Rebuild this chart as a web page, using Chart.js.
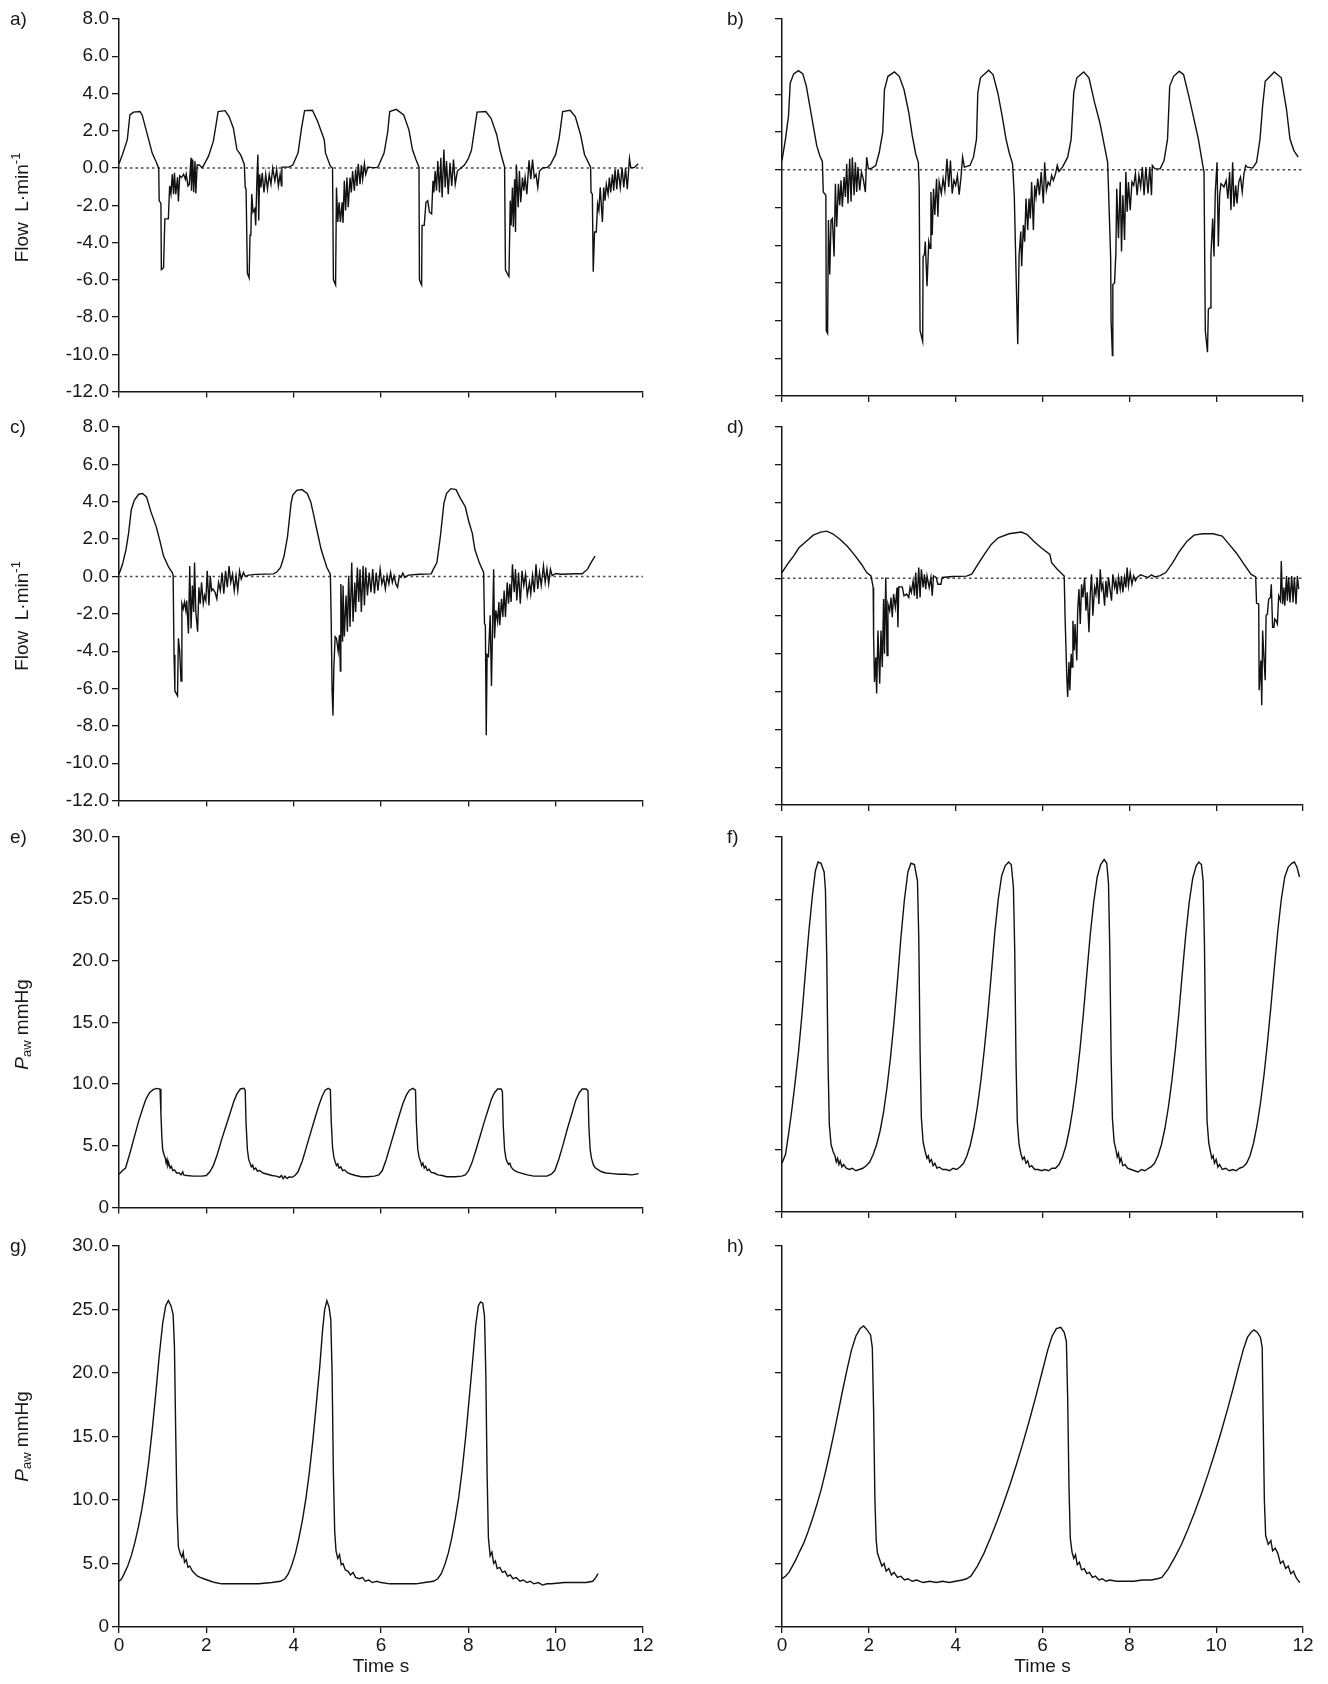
<!DOCTYPE html>
<html><head><meta charset="utf-8">
<script src="https://cdn.jsdelivr.net/npm/chart.js@4.4.1/dist/chart.umd.min.js"></script>
<style>
html,body{margin:0;padding:0;background:#fff;}
#wrap{position:relative;width:1328px;height:1684px;background:#fff;overflow:hidden;}
canvas{position:absolute;}
</style></head><body><div id="wrap"></div>
<script>
// ---------- tick values ----------
const timeTicks = [0,2,4,6,8,10,12];
const flowTicks = [8,6,4,2,0,-2,-4,-6,-8,-10,-12];
const pawTicks = [30,25,20,15,10,5,0];
const panelLetters = ['a)','b)','c)','d)','e)','f)','g)','h)'];
const zeroLine = [[0,0],[12,0]];

// ---------- series [time s, value] ----------
const flowA = [[0,0.23],[0.08,0.73],[0.19,1.52],[0.25,2.85],[0.33,3.0],[0.48,3.03],[0.53,2.85],[0.66,1.7],[0.76,0.8],[0.86,0.28],[0.91,-0.02],[0.92,-1.75],[0.96,-1.9],[0.97,-5.45],[1.02,-5.35],[1.05,-2.73],[1.13,-2.73],[1.16,-0.96],[1.19,-1.4],[1.22,-0.34],[1.25,-1.4],[1.27,-0.25],[1.3,-1.4],[1.34,-0.5],[1.36,-1.8],[1.39,-0.42],[1.43,-0.51],[1.48,-0.34],[1.52,-0.6],[1.54,-0.34],[1.58,-0.96],[1.61,-0.87],[1.65,0.55],[1.66,-1.22],[1.69,0.46],[1.71,-1.3],[1.74,0.37],[1.76,-1.36],[1.79,0.16],[1.84,0.16],[1.9,0.02],
[1.93,0.1],[2.05,0.64],[2.16,1.43],[2.21,2.14],[2.27,3.03],[2.43,3.08],[2.52,2.76],[2.62,2.14],[2.7,0.99],[2.79,0.69],[2.87,0.19],[2.89,-1.04],[2.91,-1.13],[2.94,-5.65],[2.98,-5.9],[3.0,-3.6],[3.02,-3.52],[3.04,-1.4],[3.07,-2.37],[3.11,-2.2],[3.13,-3.08],[3.16,-0.51],[3.18,0.73],[3.2,-2.81],[3.22,-0.34],[3.25,-1.04],[3.28,-0.25],[3.32,-1.31],[3.36,-0.34],[3.4,-1.13],[3.44,-0.34],[3.48,-0.87],[3.52,0],[3.57,-0.69],[3.61,-0.07],[3.65,-0.96],[3.69,-0.34],[3.72,-0.96],[3.73,0.05],[3.89,0.05],
[3.98,0.16],[4.1,0.8],[4.18,2.14],[4.25,3.08],[4.43,3.1],[4.55,2.5],[4.7,1.52],[4.73,0.8],[4.84,0.1],[4.89,0],[4.91,-6.0],[4.96,-6.27],[4.98,-1.04],[5.01,-2.9],[5.04,-1.84],[5.07,-2.9],[5.11,-1.84],[5.13,-2.95],[5.16,-0.69],[5.19,-2.28],[5.22,-0.51],[5.25,-2.1],[5.29,-0.51],[5.32,-1.31],[5.35,-0.16],[5.39,-1.22],[5.42,-0.07],[5.45,-0.96],[5.48,0.23],[5.52,-0.87],[5.55,0.16],[5.58,-0.6],[5.62,0.23],[5.65,-0.34],[5.7,0.05],[5.78,0.02],[5.9,0.02],
[5.94,0.1],[6.07,0.8],[6.15,1.88],[6.2,3.03],[6.35,3.15],[6.52,2.85],[6.64,2.05],[6.72,0.99],[6.8,0.46],[6.87,0.05],[6.88,-6.0],[6.93,-6.27],[6.94,-3.08],[6.99,-3.08],[7.03,-1.84],[7.07,-1.75],[7.11,-2.37],[7.16,-2.46],[7.19,-0.69],[7.21,-1.31],[7.24,-0.16],[7.27,-1.22],[7.3,0.37],[7.34,-1.31],[7.37,0.55],[7.4,-1.58],[7.44,0.99],[7.47,-1.04],[7.5,0.37],[7.54,-1.4],[7.58,0.28],[7.62,-0.96],[7.66,0.46],[7.7,-0.87],[7.75,-0.16],[7.83,0],[7.91,0.16],
[7.99,0.46],[8.07,0.94],[8.14,2.05],[8.2,3.0],[8.4,3.03],[8.52,2.67],[8.65,1.79],[8.73,0.9],[8.83,0.05],[8.85,-5.47],[8.89,-5.65],[8.93,-5.82],[8.96,-1.75],[8.98,-3.08],[9.01,-1.04],[9.03,-3.17],[9.06,-0.6],[9.08,-3.43],[9.1,0.19],[9.14,-2.1],[9.17,-0.16],[9.2,-1.84],[9.24,-0.51],[9.27,-1.22],[9.3,-0.51],[9.34,-1.4],[9.39,0.41],[9.43,-0.6],[9.47,0.46],[9.51,-0.51],[9.55,-0.34],[9.59,-1.04],[9.63,-0.16],[9.71,0.02],[9.8,0.02],
[9.88,0.19],[10.0,0.73],[10.08,1.61],[10.16,3.03],[10.33,3.1],[10.45,2.76],[10.57,1.79],[10.66,0.73],[10.8,0.05],[10.81,-1.31],[10.84,-1.4],[10.86,-5.56],[10.89,-3.43],[10.93,-3.43],[10.96,-1.93],[10.99,-2.28],[11.02,-1.04],[11.07,-2.9],[11.1,-1.04],[11.13,-1.75],[11.16,-0.87],[11.2,-1.4],[11.23,-0.51],[11.26,-1.31],[11.3,-0.34],[11.33,-1.22],[11.36,-0.07],[11.4,-1.13],[11.43,-0.07],[11.48,-1.04],[11.52,0.02],[11.56,-1.04],[11.6,0],[11.64,-1.13],[11.69,0.51],[11.72,0.02],[11.8,0.02],[11.89,0.23]];

const flowB = [[0,0.49],[0.08,1.63],[0.15,2.86],[0.19,4.61],[0.27,5.09],[0.38,5.26],[0.48,5.09],[0.56,4.44],[0.64,3.39],[0.72,2.33],[0.8,1.28],[0.87,0.75],[0.93,0.44],[0.95,-1.18],[1.01,-1.35],[1.02,-8.54],[1.05,-8.68],[1.07,-2.67],[1.1,-5.56],[1.13,-2.67],[1.16,-2.58],[1.2,-4.6],[1.23,-0.74],[1.26,-3.02],[1.3,-0.74],[1.33,-1.88],[1.36,-0.56],[1.39,-1.96],[1.43,-0.39],[1.46,-1.44],[1.49,0.32],[1.52,-1.79],[1.56,0.58],[1.59,-1.7],[1.62,0.67],[1.66,-1.35],[1.69,0.4],[1.72,-1.18],[1.75,0.14],[1.79,-1.09],[1.83,-0.12],[1.87,-0.47],[1.92,-1.18],[1.95,0.67],[1.99,0.05],[2.07,0.09],
[2.16,0.23],[2.24,0.93],[2.32,1.98],[2.36,4.26],[2.44,4.96],[2.59,5.19],[2.7,4.96],[2.81,4.26],[2.92,3.04],[3.0,1.81],[3.08,0.84],[3.14,0.4],[3.16,-0.91],[3.18,-8.54],[3.24,-9.1],[3.25,-4.6],[3.28,-4.51],[3.3,-3.81],[3.34,-6.18],[3.38,-3.81],[3.41,-4.16],[3.43,-1.18],[3.46,-3.46],[3.49,-1.0],[3.52,-2.4],[3.56,-0.47],[3.59,-2.49],[3.62,-0.65],[3.67,-1.26],[3.71,-0.47],[3.75,-1.09],[3.8,0.58],[3.84,-0.91],[3.88,0.49],[3.92,-1.26],[3.96,-0.56],[4.0,-0.82],[4.04,-0.3],[4.08,-1.32],[4.12,-0.47],[4.16,0.67],[4.2,0.14],[4.33,0.23],
[4.41,0.67],[4.48,1.63],[4.51,4.09],[4.57,4.88],[4.76,5.28],[4.86,5.05],[4.97,4.09],[5.07,2.86],[5.16,1.63],[5.23,0.93],[5.31,0.32],[5.35,-1.35],[5.39,-5.39],[5.43,-9.25],[5.46,-4.6],[5.5,-3.28],[5.52,-5.12],[5.56,-2.93],[5.59,-3.81],[5.62,-1.53],[5.66,-3.19],[5.69,-1.53],[5.72,-2.58],[5.75,-0.65],[5.79,-3.19],[5.82,-0.82],[5.85,-1.44],[5.89,-0.47],[5.93,-1.35],[5.97,-0.12],[6.02,-1.79],[6.05,0.4],[6.09,-1.09],[6.13,-0.65],[6.17,-0.82],[6.21,-0.3],[6.25,-0.56],[6.3,-0.21],[6.34,0.23],[6.38,-0.09],[6.46,0.14],[6.58,0.67],
[6.66,1.63],[6.72,4.09],[6.79,4.88],[6.95,5.19],[7.07,4.88],[7.2,3.56],[7.32,2.51],[7.38,1.81],[7.44,1.11],[7.5,0.4],[7.52,-1.0],[7.57,-4.68],[7.58,-8.02],[7.61,-9.86],[7.62,-6.09],[7.66,-6.0],[7.69,-4.42],[7.71,-1.0],[7.75,-3.63],[7.79,-0.65],[7.82,-4.33],[7.85,-1.35],[7.89,-3.72],[7.92,-0.12],[7.95,-2.23],[7.98,-0.65],[8.02,-2.14],[8.06,-0.65],[8.1,-0.82],[8.14,-0.21],[8.18,-1.35],[8.22,-0.3],[8.26,-0.91],[8.3,0.14],[8.34,-1.35],[8.38,0.14],[8.43,-1.26],[8.47,0.14],[8.51,-1.35],[8.53,0.23],[8.59,0.05],[8.71,0.05],
[8.8,0.49],[8.88,1.63],[8.93,4.44],[9.02,4.96],[9.15,5.23],[9.25,5.05],[9.37,3.91],[9.49,2.68],[9.59,1.63],[9.68,0.4],[9.72,-0.12],[9.75,-8.54],[9.8,-9.68],[9.82,-7.4],[9.86,-7.32],[9.88,-4.51],[9.92,-2.58],[9.95,-4.6],[9.98,-1.18],[10.02,0.4],[10.05,-4.07],[10.08,-1.35],[10.11,-0.74],[10.15,-0.82],[10.18,-0.91],[10.23,-0.56],[10.27,-1.53],[10.31,-0.12],[10.34,-2.14],[10.38,0.4],[10.41,-1.96],[10.45,-0.82],[10.48,-1.79],[10.52,-0.65],[10.56,-0.39],[10.6,-1.18],[10.64,-0.21],[10.68,0.23],[10.72,0.14],[10.84,0.09],
[10.93,0.4],[11.01,1.63],[11.07,3.39],[11.13,4.7],[11.34,5.19],[11.5,4.88],[11.62,3.21],[11.7,1.63],[11.79,1.02],[11.89,0.67]];

const flowC = [[0,0.12],[0.08,0.65],[0.16,1.44],[0.22,2.32],[0.28,3.56],[0.35,4.08],[0.45,4.4],[0.54,4.44],[0.63,4.26],[0.73,3.47],[0.85,2.68],[0.93,1.97],[1.02,1.09],[1.14,0.48],[1.22,0.21],[1.24,0.04],[1.26,-4.19],[1.28,-6.13],[1.34,-6.39],[1.36,-3.31],[1.39,-4.01],[1.42,-5.6],[1.44,-1.46],[1.47,-1.73],[1.5,-1.37],[1.53,-1.81],[1.55,-1.29],[1.59,-3.05],[1.62,0.56],[1.65,-2.78],[1.68,-0.49],[1.71,-1.9],[1.73,0.74],[1.76,-1.9],[1.8,-2.96],[1.83,-0.58],[1.86,-1.46],[1.89,-0.32],[1.93,-1.46],[1.96,-1.02],[1.99,-1.29],[2.02,0.3],[2.06,-1.55],[2.09,0.04],[2.12,-0.76],[2.15,-0.67],[2.2,-0.85],[2.24,-1.2],[2.28,-0.32],[2.32,-0.76],[2.36,0.21],[2.4,-0.93],[2.44,0.3],[2.48,-0.58],[2.52,0.56],[2.56,-0.32],[2.6,0.12],[2.64,-0.76],[2.68,0.04],[2.72,-0.76],[2.76,0.3],[2.8,-0.14],[2.85,0.21],[2.89,0],[2.97,0.07],[3.13,0.11],[3.54,0.14],
[3.62,0.25],[3.7,0.48],[3.78,1.09],[3.86,2.15],[3.94,3.91],[3.98,4.35],[4.07,4.61],[4.19,4.65],[4.31,4.44],[4.39,4.0],[4.45,3.38],[4.53,2.5],[4.63,1.44],[4.76,0.48],[4.84,0.12],[4.86,-2.43],[4.88,-6.13],[4.9,-7.45],[4.92,-4.89],[4.95,-3.22],[4.98,-3.31],[5.02,-4.01],[5.05,-3.13],[5.07,-5.07],[5.08,-0.4],[5.12,-3.49],[5.13,-0.49],[5.16,-3.22],[5.2,-1.02],[5.23,-2.96],[5.26,0.04],[5.29,-2.69],[5.33,0.74],[5.36,-2.43],[5.4,-0.32],[5.42,-1.9],[5.46,0.48],[5.49,-1.37],[5.52,0.39],[5.55,-1.9],[5.59,0.56],[5.62,-1.55],[5.65,0.48],[5.69,-1.02],[5.73,0.21],[5.77,-0.85],[5.81,0.39],[5.85,-0.93],[5.89,0.21],[5.93,-0.76],[5.98,0.39],[6.02,-0.4],[6.06,-0.05],[6.1,-0.67],[6.14,0.04],[6.18,-0.4],[6.22,0.21],[6.26,-0.32],[6.3,0.04],[6.34,-0.4],[6.38,-0.58],[6.42,0.04],[6.46,-0.05],[6.5,0.18],[6.54,-0.05],[6.63,0.07],[6.87,0.12],[7.15,0.14],
[7.2,0.39],[7.28,0.74],[7.36,2.15],[7.44,3.91],[7.5,4.44],[7.6,4.7],[7.72,4.65],[7.8,4.26],[7.93,3.73],[8.01,2.94],[8.09,2.32],[8.15,1.44],[8.25,0.74],[8.35,0.21],[8.37,-2.52],[8.39,-2.61],[8.41,-8.5],[8.43,-4.19],[8.46,-4.28],[8.5,-2.08],[8.53,-5.86],[8.56,-1.99],[8.58,0.39],[8.6,-3.31],[8.63,-1.81],[8.67,-2.43],[8.7,-1.37],[8.72,-2.61],[8.76,-1.2],[8.79,-2.17],[8.82,-0.76],[8.85,-2.17],[8.89,-0.32],[8.92,-1.46],[8.95,-0.4],[8.98,-1.37],[9.01,0.65],[9.05,-0.85],[9.08,0.39],[9.11,-1.29],[9.15,0.21],[9.19,-1.46],[9.23,0.3],[9.27,-0.49],[9.31,0.12],[9.35,-1.02],[9.4,-0.32],[9.43,-0.93],[9.47,0.04],[9.51,-0.85],[9.55,0.65],[9.59,-0.67],[9.63,0.21],[9.67,-0.49],[9.72,0.56],[9.76,-0.32],[9.8,0.39],[9.84,-0.4],[9.88,0.39],[9.92,0.04],[10.0,0.16],[10.12,0.12],[10.45,0.14],[10.61,0.14],[10.73,0.39],[10.81,0.74],[10.9,1.09]];

const flowD = [[0,0.3],[0.15,0.82],[0.27,1.18],[0.39,1.61],[0.56,1.96],[0.72,2.28],[0.89,2.44],[1.03,2.49],[1.17,2.35],[1.34,2.05],[1.5,1.7],[1.66,1.26],[1.83,0.74],[1.95,0.3],[2.05,0.12],[2.1,-0.49],[2.11,-3.12],[2.13,-5.49],[2.16,-4.18],[2.18,-6.1],[2.21,-2.77],[2.25,-5.58],[2.28,-2.77],[2.31,-4.7],[2.34,-1.1],[2.36,-4.0],[2.39,0.04],[2.42,-4.09],[2.44,-1.37],[2.48,-1.72],[2.51,-1.02],[2.54,-2.07],[2.57,-0.84],[2.61,-1.54],[2.65,-0.49],[2.67,-2.6],[2.69,-0.46],[2.77,-0.46],[2.81,-0.93],[2.87,-0.84],[2.92,-1.02],[2.95,-0.49],[2.98,-0.75],[3.02,-0.14],[3.05,-0.93],[3.08,0.3],[3.11,-1.1],[3.15,0.56],[3.18,-1.02],[3.21,0.47],[3.25,-0.49],[3.28,0.21],[3.31,-0.58],[3.34,0.12],[3.39,-0.49],[3.43,0.04],[3.46,-0.93],[3.49,0.12],[3.55,0.04],[3.59,-0.32],[3.66,-0.32],[3.69,0.04],[3.92,0.09],[4.25,0.11],
[4.37,0.21],[4.49,0.65],[4.66,1.26],[4.82,1.79],[4.98,2.14],[5.23,2.35],[5.51,2.44],[5.64,2.32],[5.8,1.96],[5.97,1.61],[6.17,1.26],[6.21,0.82],[6.34,0.47],[6.5,0.12],[6.52,-2.07],[6.56,-5.23],[6.58,-6.28],[6.61,-4.44],[6.63,-5.93],[6.66,-4.0],[6.68,-4.7],[6.7,-2.25],[6.73,-3.82],[6.75,-2.42],[6.79,-4.35],[6.81,-1.72],[6.84,-0.58],[6.87,-2.42],[6.9,-0.32],[6.93,-1.02],[6.97,0.04],[7.0,-1.72],[7.03,-0.75],[7.07,-2.86],[7.1,-0.84],[7.13,0.21],[7.16,-1.98],[7.2,-0.49],[7.23,-0.84],[7.26,0.04],[7.3,-1.37],[7.33,0.47],[7.36,-0.58],[7.39,-0.32],[7.43,-1.46],[7.46,-0.14],[7.49,-1.02],[7.52,0.04],[7.56,-0.67],[7.59,-1.19],[7.62,0.21],[7.66,-0.49],[7.69,-0.14],[7.72,-0.84],[7.75,0.04],[7.79,-0.58],[7.82,0.12],[7.85,-0.75],[7.89,0.04],[7.92,-0.49],[7.95,0.56],[7.98,-0.4],[8.02,0.3],[8.06,-0.32],[8.1,0.12],[8.14,-0.14],[8.18,0.04],[8.26,0.18],[8.34,0.11],[8.43,0.04],[8.51,0.18],[8.59,0.07],[8.71,0.14],
[8.84,0.3],[9.0,0.82],[9.16,1.44],[9.33,1.96],[9.49,2.28],[9.69,2.35],[9.93,2.35],[10.14,2.23],[10.3,1.79],[10.46,1.35],[10.64,0.74],[10.8,0.21],[10.91,0.07],[10.93,-1.33],[10.98,-1.37],[10.99,-5.93],[11.03,-4.35],[11.05,-6.72],[11.07,-2.77],[11.1,-4.18],[11.13,-5.4],[11.15,-1.98],[11.18,-1.89],[11.21,-1.1],[11.25,-1.02],[11.27,-0.32],[11.3,-2.6],[11.33,-2.6],[11.35,-2.16],[11.38,-2.25],[11.41,-2.42],[11.44,-0.93],[11.48,-1.19],[11.5,0.91],[11.53,-1.37],[11.56,-0.49],[11.58,-1.46],[11.62,0.12],[11.64,-1.19],[11.67,0.04],[11.7,-1.28],[11.74,0.12],[11.77,-1.28],[11.8,0.04],[11.84,-1.37],[11.87,0.12],[11.9,-0.58]];

const pawE = [[0,2.7],[0.08,3.0],[0.15,3.2],[0.25,4.4],[0.35,5.7],[0.45,7.0],[0.55,8.1],[0.62,8.8],[0.7,9.3],[0.78,9.55],[0.86,9.65],[0.94,9.6],[0.96,7.6],[0.98,5.8],[1.0,4.7],[1.03,4.3],[1.06,4.0],[1.08,3.6],[1.1,3.9],[1.12,3.4],[1.14,3.6],[1.17,3.2],[1.2,3.35],[1.23,3.0],[1.27,3.05],[1.32,2.8],[1.38,2.8],[1.42,2.65],[1.46,2.9],[1.48,2.65],[1.55,2.6],[1.7,2.55],[1.9,2.55],[2.0,2.6],
[2.08,2.9],[2.16,3.4],[2.25,4.3],[2.35,5.5],[2.45,6.6],[2.55,7.7],[2.63,8.6],[2.7,9.2],[2.78,9.6],[2.86,9.65],[2.89,9.5],[2.91,6.8],[2.94,4.7],[2.97,3.9],[3.0,3.6],[3.03,3.3],[3.06,3.45],[3.09,3.1],[3.13,3.2],[3.17,2.95],[3.22,3.0],[3.3,2.8],[3.4,2.7],[3.5,2.6],[3.6,2.55],[3.68,2.45],[3.72,2.6],[3.76,2.35],[3.8,2.55],[3.85,2.35],[3.9,2.5],[3.96,2.45],
[4.03,2.6],[4.1,2.9],[4.2,3.8],[4.3,5.0],[4.4,6.2],[4.5,7.4],[4.58,8.3],[4.65,9.0],[4.72,9.5],[4.79,9.65],[4.84,9.55],[4.86,7.0],[4.89,4.9],[4.92,4.1],[4.95,3.7],[4.98,3.4],[5.01,3.55],[5.04,3.2],[5.08,3.3],[5.12,3.0],[5.17,3.05],[5.24,2.8],[5.32,2.7],[5.42,2.6],[5.55,2.5],[5.7,2.5],[5.85,2.55],[5.95,2.65],
[6.03,3.0],[6.12,3.9],[6.22,5.1],[6.32,6.3],[6.42,7.5],[6.5,8.4],[6.58,9.1],[6.65,9.5],[6.73,9.65],[6.79,9.5],[6.81,6.9],[6.84,4.8],[6.87,4.1],[6.9,3.8],[6.93,3.4],[6.96,3.6],[6.99,3.2],[7.02,3.35],[7.06,3.0],[7.1,3.1],[7.15,2.85],[7.22,2.8],[7.3,2.65],[7.4,2.6],[7.5,2.5],[7.7,2.5],[7.85,2.55],[7.93,2.65],
[8.0,2.95],[8.08,3.6],[8.17,4.6],[8.27,5.8],[8.37,7.0],[8.46,8.0],[8.53,8.8],[8.6,9.3],[8.67,9.6],[8.75,9.6],[8.78,9.4],[8.8,6.6],[8.83,4.7],[8.86,4.0],[8.89,3.7],[8.92,3.5],[8.95,3.6],[8.98,3.3],[9.02,3.1],[9.08,2.95],[9.15,2.85],[9.25,2.75],[9.35,2.65],[9.5,2.55],[9.65,2.55],[9.8,2.55],
[9.9,2.7],[9.98,3.0],[10.07,3.9],[10.17,5.1],[10.27,6.4],[10.37,7.6],[10.46,8.7],[10.54,9.3],[10.61,9.6],[10.7,9.6],[10.74,9.45],[10.76,6.6],[10.79,4.7],[10.82,4.0],[10.86,3.5],[10.9,3.25],[10.96,3.1],[11.05,2.9],[11.15,2.8],[11.3,2.75],[11.45,2.7],[11.6,2.7],[11.75,2.65],[11.9,2.75]];

const pawF = [[0,3.9],[0.08,4.6],[0.15,6.2],[0.22,8.0],[0.3,10.3],[0.38,12.8],[0.46,15.8],[0.54,19.2],[0.62,22.5],[0.7,25.3],[0.77,27.3],[0.83,28.0],[0.9,27.9],[0.97,27.2],[1.0,25.8],[1.03,20.5],[1.06,12.0],[1.09,7.0],[1.13,5.4],[1.18,4.8],[1.22,4.5],[1.25,4.0],[1.28,4.3],[1.31,3.8],[1.34,4.1],[1.38,3.6],[1.42,3.8],[1.48,3.5],[1.55,3.4],[1.62,3.5],[1.7,3.3],[1.78,3.4],[1.86,3.5],[1.94,3.7],
[2.02,4.0],[2.1,4.6],[2.18,5.4],[2.26,6.5],[2.34,8.0],[2.42,10.0],[2.5,12.4],[2.58,15.2],[2.66,18.5],[2.74,22.0],[2.82,25.0],[2.9,27.2],[2.97,27.9],[3.05,27.8],[3.12,26.5],[3.15,22.0],[3.18,13.0],[3.21,7.5],[3.25,5.6],[3.3,4.8],[3.34,4.3],[3.37,4.5],[3.4,4.0],[3.44,4.2],[3.48,3.7],[3.52,3.9],[3.57,3.5],[3.62,3.6],[3.7,3.4],[3.78,3.4],[3.86,3.3],[3.94,3.5],[4.02,3.4],[4.1,3.6],
[4.18,3.9],[4.26,4.5],[4.34,5.4],[4.42,6.7],[4.5,8.4],[4.58,10.5],[4.66,13.0],[4.74,15.8],[4.82,19.0],[4.9,22.3],[4.98,25.0],[5.06,26.9],[5.14,27.7],[5.22,28.0],[5.28,27.8],[5.33,26.0],[5.36,21.0],[5.39,12.0],[5.42,7.2],[5.46,5.4],[5.5,4.7],[5.54,4.2],[5.58,4.4],[5.62,3.9],[5.66,4.1],[5.7,3.6],[5.75,3.7],[5.82,3.4],[5.9,3.4],[5.98,3.3],[6.06,3.4],[6.14,3.3],[6.22,3.5],[6.3,3.5],
[6.38,3.8],[6.46,4.4],[6.54,5.3],[6.62,6.6],[6.7,8.3],[6.78,10.4],[6.86,12.9],[6.94,15.8],[7.02,19.0],[7.1,22.2],[7.18,24.8],[7.26,26.8],[7.34,27.8],[7.42,28.2],[7.48,27.9],[7.52,26.3],[7.55,21.0],[7.58,12.5],[7.61,7.5],[7.65,5.6],[7.69,5.0],[7.72,4.4],[7.75,4.7],[7.78,4.0],[7.81,4.3],[7.85,3.7],[7.9,3.8],[7.96,3.5],[8.04,3.4],[8.12,3.3],[8.2,3.2],[8.28,3.4],[8.36,3.3],[8.44,3.5],[8.5,3.6],
[8.58,3.9],[8.66,4.5],[8.74,5.4],[8.82,6.7],[8.9,8.4],[8.98,10.5],[9.06,13.0],[9.14,15.9],[9.22,19.1],[9.3,22.2],[9.38,24.8],[9.46,26.7],[9.54,27.7],[9.6,28.0],[9.66,27.8],[9.7,26.5],[9.73,21.5],[9.76,12.5],[9.79,7.3],[9.83,5.5],[9.87,4.8],[9.9,4.3],[9.93,4.5],[9.96,3.9],[10.0,4.2],[10.04,3.6],[10.08,3.8],[10.14,3.4],[10.22,3.5],[10.3,3.3],[10.38,3.4],[10.46,3.3],[10.54,3.5],[10.62,3.6],
[10.7,3.9],[10.78,4.5],[10.86,5.5],[10.94,6.9],[11.02,8.7],[11.1,10.9],[11.18,13.5],[11.26,16.4],[11.34,19.5],[11.42,22.5],[11.5,25.0],[11.58,26.8],[11.66,27.6],[11.74,27.9],[11.8,28.0],[11.86,27.6],[11.92,26.8]];

const pawG = [[0,3.6],[0.06,3.8],[0.12,4.2],[0.2,4.8],[0.28,5.6],[0.36,6.6],[0.44,7.8],[0.52,9.2],[0.6,10.9],[0.68,13.0],[0.76,15.5],[0.84,18.3],[0.92,21.3],[1.0,23.9],[1.07,25.3],[1.13,25.7],[1.19,25.3],[1.24,24.6],[1.27,22.0],[1.3,15.0],[1.33,9.0],[1.36,6.3],[1.4,5.8],[1.44,5.5],[1.47,5.9],[1.5,5.1],[1.54,5.3],[1.58,4.7],[1.62,4.8],[1.68,4.4],[1.74,4.2],[1.8,4.0],[1.86,3.9],[1.94,3.8],[2.02,3.7],[2.1,3.6],[2.2,3.5],[2.35,3.4],[2.6,3.4],[2.9,3.4],[3.2,3.4],[3.5,3.5],[3.7,3.6],
[3.8,3.8],[3.88,4.2],[3.96,4.9],[4.04,5.8],[4.12,7.0],[4.2,8.4],[4.28,10.1],[4.36,12.2],[4.44,14.7],[4.52,17.6],[4.6,20.6],[4.66,23.3],[4.71,25.0],[4.76,25.7],[4.81,25.2],[4.85,24.2],[4.88,20.0],[4.91,12.0],[4.94,7.5],[4.97,6.0],[5.01,5.4],[5.05,5.7],[5.09,4.9],[5.13,5.0],[5.18,4.5],[5.24,4.4],[5.3,4.1],[5.36,4.3],[5.42,3.9],[5.5,3.8],[5.58,3.9],[5.64,3.6],[5.72,3.7],[5.8,3.5],[5.9,3.6],[6.0,3.5],[6.2,3.4],[6.5,3.4],[6.8,3.4],[7.0,3.5],[7.2,3.6],
[7.3,3.8],[7.38,4.2],[7.46,4.9],[7.54,5.8],[7.62,7.0],[7.7,8.5],[7.78,10.2],[7.86,12.4],[7.94,15.0],[8.02,18.0],[8.1,21.0],[8.17,23.8],[8.23,25.3],[8.28,25.6],[8.33,25.5],[8.37,24.5],[8.4,20.0],[8.43,12.0],[8.46,7.0],[8.5,5.6],[8.54,5.9],[8.58,5.0],[8.62,5.2],[8.66,4.6],[8.72,4.7],[8.78,4.3],[8.84,4.4],[8.9,4.0],[8.96,4.1],[9.02,3.8],[9.1,3.9],[9.18,3.6],[9.26,3.7],[9.34,3.5],[9.42,3.6],[9.5,3.4],[9.6,3.5],[9.7,3.3],[9.8,3.4],[9.9,3.4],[10.2,3.5],[10.5,3.5],[10.7,3.5],[10.85,3.6],[10.92,3.9],[10.97,4.2]];

const pawH = [[0,3.8],[0.08,4.0],[0.16,4.3],[0.24,4.8],[0.32,5.3],[0.4,5.9],[0.5,6.6],[0.6,7.5],[0.7,8.5],[0.8,9.6],[0.9,10.8],[1.0,12.2],[1.1,13.7],[1.2,15.3],[1.3,17.0],[1.4,18.7],[1.5,20.3],[1.6,21.8],[1.7,22.9],[1.8,23.5],[1.88,23.7],[1.96,23.4],[2.04,23.0],[2.08,22.0],[2.11,17.0],[2.14,10.0],[2.17,6.8],[2.2,5.8],[2.25,5.3],[2.3,4.8],[2.35,5.0],[2.4,4.4],[2.46,4.6],[2.52,4.1],[2.58,4.3],[2.66,3.9],[2.74,4.0],[2.82,3.7],[2.9,3.8],[3.0,3.6],[3.1,3.7],[3.25,3.5],[3.4,3.6],[3.55,3.5],[3.7,3.6],[3.85,3.5],[4.0,3.6],[4.15,3.7],[4.25,3.8],
[4.35,4.0],[4.5,4.8],[4.65,5.8],[4.8,7.0],[4.95,8.3],[5.1,9.7],[5.25,11.2],[5.4,12.8],[5.55,14.5],[5.7,16.3],[5.85,18.2],[6.0,20.2],[6.12,21.8],[6.22,22.9],[6.32,23.5],[6.42,23.6],[6.5,23.2],[6.55,22.5],[6.58,18.0],[6.61,11.0],[6.64,7.0],[6.68,5.9],[6.72,5.4],[6.76,5.7],[6.8,4.9],[6.85,5.1],[6.9,4.5],[6.96,4.6],[7.02,4.2],[7.08,4.3],[7.15,3.9],[7.22,4.0],[7.3,3.7],[7.38,3.8],[7.46,3.6],[7.55,3.7],[7.7,3.6],[7.9,3.6],[8.1,3.6],[8.3,3.7],[8.5,3.7],[8.65,3.8],
[8.75,3.9],[8.9,4.6],[9.05,5.5],[9.2,6.5],[9.35,7.7],[9.5,9.0],[9.65,10.4],[9.8,11.9],[9.95,13.5],[10.1,15.2],[10.25,17.0],[10.4,18.9],[10.52,20.5],[10.63,21.9],[10.72,22.8],[10.8,23.2],[10.87,23.4],[10.95,23.2],[11.02,22.8],[11.06,22.0],[11.08,17.0],[11.11,10.0],[11.14,7.2],[11.2,6.5],[11.26,6.8],[11.3,6.0],[11.36,6.2],[11.42,5.8],[11.48,5.0],[11.54,5.2],[11.6,4.6],[11.66,4.8],[11.72,4.2],[11.78,4.4],[11.84,3.9],[11.9,3.6],[11.93,3.5]];

// ---------- layout ----------
const FONT = "'Liberation Sans', Arial, Helvetica, sans-serif";
const FS = 19;
const rowTop = [19, 427, 837, 1246];
const rowBot = [396, 805, 1212, 1627];
const colLeft = [119, 782];
const colRight = [643, 1303];
const canvasLeft = [0, 662];
const canvasWidth = [670, 666];
const TOPPAD = 19;
const INK = '#1a1718';

const panels = [
  {data: flowA, kind:'flow', row:0, col:0},
  {data: flowB, kind:'flow', row:0, col:1},
  {data: flowC, kind:'flow', row:1, col:0},
  {data: flowD, kind:'flow', row:1, col:1},
  {data: pawE, kind:'paw', row:2, col:0},
  {data: pawF, kind:'paw', row:2, col:1},
  {data: pawG, kind:'paw', row:3, col:0},
  {data: pawH, kind:'paw', row:3, col:1},
];

function toXY(arr){ return arr.map(p => ({x:p[0], y:p[1]})); }

function drawRich(ctx, segs, cx, cy, rotate){
  ctx.save();
  ctx.translate(cx, cy);
  if (rotate) ctx.rotate(-Math.PI/2);
  let total = 0;
  segs.forEach(s => { ctx.font = s.font; s.w = ctx.measureText(s.t).width; total += s.w; });
  let x = -total/2;
  ctx.textBaseline = 'alphabetic';
  ctx.textAlign = 'left';
  ctx.fillStyle = INK;
  segs.forEach(s => { ctx.font = s.font; ctx.fillText(s.t, x, s.dy); x += s.w; });
  ctx.restore();
}

const wrap = document.getElementById('wrap');

panels.forEach((p, i) => {
  const row = p.row, col = p.col;
  const cTop = rowTop[row] - TOPPAD;
  const bottomH = row === 3 ? (1684 - rowBot[row]) : 10;
  const cH = (rowBot[row] - rowTop[row]) + TOPPAD + bottomH;
  const cW = canvasWidth[col];
  const cv = document.createElement('canvas');
  cv.width = cW; cv.height = cH;
  cv.style.left = canvasLeft[col] + 'px';
  cv.style.top = cTop + 'px';
  cv.style.width = cW + 'px'; cv.style.height = cH + 'px';
  wrap.appendChild(cv);

  const yLeft = colLeft[col] - canvasLeft[col];
  const padRight = cW - (colRight[col] - canvasLeft[col]);
  const isFlow = p.kind === 'flow';
  const yTicks = isFlow ? flowTicks : pawTicks;

  const datasets = [{
    data: toXY(p.data), borderColor:'#111', borderWidth:1.4, pointRadius:0,
    tension:0, fill:false, order:1
  }];
  if (isFlow) {
    datasets.push({
      data: toXY(zeroLine), borderColor:'#4a4a4a', borderWidth:1.5, borderDash:[2.5,3],
      pointRadius:0, fill:false, order:2
    });
  }

  const textPlugin = {
    id: 'panelText' + i,
    afterDraw(chart){
      const ctx = chart.ctx;
      const ox = canvasLeft[col], oy = cTop;
      ctx.save();
      ctx.font = FS + 'px ' + FONT;
      ctx.fillStyle = INK;
      ctx.textBaseline = 'middle';
      ctx.textAlign = 'left';
      ctx.fillText(panelLetters[i], (col === 0 ? 10 : 727) - ox, rowTop[row] + 1 - oy);
      ctx.restore();
      if (col === 0) {
        const cy = (rowTop[row] + rowBot[row]) / 2 - oy;
        const cx = 20.5 - ox;
        if (isFlow) {
          drawRich(ctx, [
            {t:'Flow  L\u00B7min', font:FS + 'px ' + FONT, dy:7},
            {t:'-1', font:'13px ' + FONT, dy:-1}
          ], cx, cy, true);
        } else {
          drawRich(ctx, [
            {t:'P', font:'italic ' + FS + 'px ' + FONT, dy:7},
            {t:'aw', font:'13px ' + FONT, dy:10.5},
            {t:' mmHg', font:FS + 'px ' + FONT, dy:7}
          ], cx, cy, true);
        }
      }
      if (row === 3) {
        ctx.save();
        ctx.font = FS + 'px ' + FONT;
        ctx.fillStyle = INK;
        ctx.textAlign = 'center';
        ctx.textBaseline = 'middle';
        const mid = (colLeft[col] + colRight[col]) / 2 - ox;
        ctx.fillText('Time s', mid, 1667 - oy);
        ctx.restore();
      }
    }
  };

  new Chart(cv, {
    type: 'line',
    data: { datasets },
    options: {
      responsive:false, animation:false, devicePixelRatio:1,
      events: [],
      layout: { padding: { top: TOPPAD, right: padRight, left: 0, bottom: 0 } },
      plugins: { legend:{display:false}, tooltip:{enabled:false}, title:{display:false} },
      scales: {
        x: {
          type:'linear', min:0, max:12,
          afterBuildTicks: s => { s.ticks = timeTicks.map(v => ({value:v})); },
          afterFit: s => { s.height = bottomH; },
          grid: { drawOnChartArea:false, drawTicks:true, tickLength:6, color:INK, lineWidth:1.3 },
          border: { display:true, color:INK, width:1.5 },
          ticks: { display: row === 3, color:INK, padding:1, maxRotation:0, autoSkip:false,
                   font:{family:FONT, size:FS}, callback: v => String(v) }
        },
        y: {
          type:'linear', min: yTicks[yTicks.length-1], max: yTicks[0],
          afterBuildTicks: s => { s.ticks = yTicks.slice().reverse().map(v => ({value:v})); },
          afterFit: s => { s.width = yLeft; },
          grid: { drawOnChartArea:false, drawTicks:true, tickLength:7, color:INK, lineWidth:1.3 },
          border: { display:true, color:INK, width:1.5 },
          ticks: { display: col === 0, color:INK, padding:3, autoSkip:false,
                   font:{family:FONT, size:FS},
                   callback: v => (isFlow ? v.toFixed(1) : (v === 0 ? '0' : v.toFixed(1))) }
        }
      }
    },
    plugins: [textPlugin]
  });
});
</script>
</body></html>
